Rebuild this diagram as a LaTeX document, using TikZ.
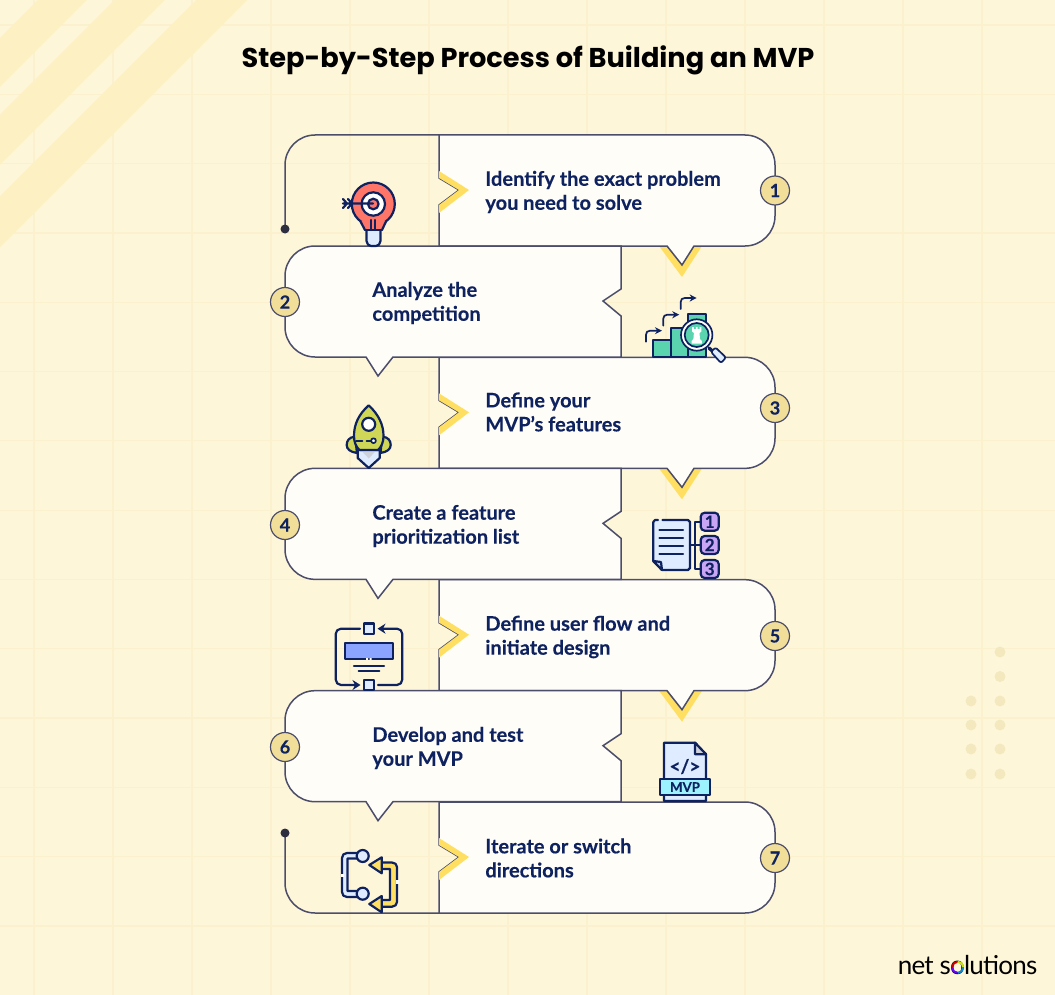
\documentclass[tikz,border=0pt]{standalone}
\usepackage{fontspec}
\setmainfont{Lato}[BoldFeatures={FakeBold=0.25}]
\newfontfamily\titlefont{Poppins}
\usetikzlibrary{arrows.meta,positioning}
\definecolor{paper}{HTML}{FEF6D8}
\definecolor{gridline}{HTML}{FBF1CE}
\definecolor{stripe}{HTML}{FDF0C3}
\definecolor{speck}{HTML}{F3E8BE}
\definecolor{panel}{HTML}{FFFDF8}
\definecolor{frame}{HTML}{4B4D6B}
\definecolor{navy}{HTML}{0F2260}
\definecolor{sun}{HTML}{FFDF62}
\definecolor{badge}{HTML}{F1DE98}
\definecolor{coral}{HTML}{FF7567}
\definecolor{pale}{HTML}{DFECFF}
\definecolor{mint}{HTML}{5AD4AE}
\definecolor{olive}{HTML}{D0D655}
\definecolor{lilac}{HTML}{C9A5F5}
\definecolor{cornblue}{HTML}{8AA4FF}
\definecolor{aqua}{HTML}{9CF3FF}
\tikzset{
  panelline/.style={draw=frame,line width=0.75pt,fill=panel,line join=miter},
  frameline/.style={draw=frame,line width=0.75pt},
  stepbadge/.style={circle,draw=frame,fill=badge,line width=0.6pt,minimum size=14.5pt,inner sep=0pt,text=navy,font=\fontsize{9}{9}\selectfont\bfseries},
  steplabel/.style={anchor=west,align=left,inner sep=0pt,text=navy,font=\fontsize{10}{12}\selectfont\bfseries},
  iconline/.style={draw=navy,line width=1.1pt,line join=round,line cap=round},
  iconthin/.style={draw=navy,line width=0.85pt,line join=round,line cap=round},
  numtile/.style={draw=navy,fill=lilac,line width=1.1pt,rounded corners=2pt,minimum size=9pt,inner sep=0pt,text=navy,font=\fontsize{8.5}{8.5}\selectfont\bfseries},
}
\begin{document}
\begin{tikzpicture}[x=0.5pt,y=-0.5pt]
  \fill[paper] (0,0) rectangle (1055,995);
  \useasboundingbox (0,0) rectangle (1055,995);
  \foreach \k in {0,...,12} \draw[gridline,line width=0.6pt] (34+\k*79,0) -- (34+\k*79,995);
  \foreach \k in {0,...,13} \draw[gridline,line width=0.6pt] (0,25+\k*69.3) -- (1055,25+\k*69.3);
  \foreach \a/\b in {38/87,115/165,196/247}
    \fill[stripe] (\a,0) -- (\b,0) -- (0,\b) -- (0,\a) -- cycle;
  \foreach \y in {652,676.5,701,725,749,774} \fill[speck] (1000,\y) circle (5.5);
  \foreach \y in {701,725,749,774} \fill[speck] (971,\y) circle (5.5);

  \node[font=\titlefont\fontsize{13.6}{16}\selectfont\bfseries,text=black] (title) at (528,60) {Step-by-Step Process of Building an MVP};

  % open ends of the frame
  \coordinate (dottop) at (285,229);
  \coordinate (dotlow) at (285,833);
  \draw[frameline] (dottop) -- (285,165) .. controls (285,148.5) and (298.5,135) .. (315,135) -- (439,135);
  \draw[frameline] (dotlow) -- (285,883) .. controls (285,899.5) and (298.5,913) .. (315,913) -- (439,913);
  \fill[frame!60!black] (dottop) circle (4.5);
  \fill[frame!60!black] (dotlow) circle (4.5);

  % right hand panels
  \foreach \k in {0,2,4} {
    \begin{scope}[shift={(0,\k*111.17)}]
      \fill[sun] (659,246) -- (682,277) -- (702,246) -- cycle;
      \draw[panelline] (439,135) -- (745,135) .. controls (761.5,135) and (775,148.5) .. (775,165) -- (775,216) .. controls (775,232.5) and (761.5,246) .. (745,246) -- (694,246) -- (682,265) -- (667,246) -- (439,246) -- (439,205) -- (459,190) -- (439,178) -- cycle;
    \end{scope}
  }
  \begin{scope}[shift={(0,667)}]
    \draw[panelline] (439,135) -- (745,135) .. controls (761.5,135) and (775,148.5) .. (775,165) -- (775,216) .. controls (775,232.5) and (761.5,246) .. (745,246) -- (439,246) -- (439,205) -- (459,190) -- (439,178) -- cycle;
  \end{scope}
  \foreach \k in {0,2,4,6} {
    \begin{scope}[shift={(0,\k*111.17)}]
      \fill[sun] (439,171) -- (469,190) -- (439,213) -- (439,205) -- (459,190) -- (439,178) -- cycle;
    \end{scope}
  }
  % left hand panels
  \foreach \k in {0,2,4} {
    \begin{scope}[shift={(0,\k*111.17)}]
      \draw[panelline] (621,246) -- (315,246) .. controls (298.5,246) and (285,259.5) .. (285,276) -- (285,327) .. controls (285,343.5) and (298.5,357) .. (315,357) -- (366,357) -- (378,376) -- (393,357) -- (621,357) -- (621,316) -- (603,301) -- (621,289) -- cycle;
    \end{scope}
  }

  \node[steplabel] (lab1) at (485,192) {Identify the exact problem\\you need to solve};
  \node[steplabel] (lab2) at (372,303) {Analyze the\\competition};
  \node[steplabel] (lab3) at (485,412) {Define your\\MVP’s features};
  \node[steplabel] (lab4) at (372,526) {Create a feature\\prioritization list};
  \node[steplabel] (lab5) at (485,637) {Define user flow and\\initiate design};
  \node[steplabel] (lab6) at (372,748) {Develop and test\\your MVP};
  \node[steplabel] (lab7) at (485,858) {Iterate or switch\\directions};

  \foreach \n/\x/\y in {1/775/190.5,2/285/302,3/775/408,4/285/525,5/775/636,6/285/747,7/775/858}
    \node[stepbadge] (num\n) at (\x,\y) {\n};

  % bulb with target
  \draw[iconline,fill=coral] (373.3,204) circle (21.5);
  \fill[coral] (361,221) -- (366,230) -- (381,230) -- (386,221) -- cycle;
  \draw[iconline] (360.5,221.5) -- (365,230) (386,221.5) -- (382,230);
  \draw[iconline,fill=pale] (366.5,230) -- (366.5,241) .. controls (366.5,244) and (369,246) .. (371,246) -- (376,246) .. controls (378,246) and (380.5,244) .. (380.5,241) -- (380.5,230);
  \draw[iconline] (365,230) -- (382,230);
  \draw[iconline] (371,220) -- (371,230) (375,220) -- (375,230);
  \draw[iconline,fill=white] (373.3,204) circle (11.7);
  \draw[iconline,fill=coral] (373.3,204) circle (5.3);
  \draw[iconline] (343,203.5) -- (373,203.5) (343,199) -- (347,203.5) -- (343,208) (348,199) -- (352,203.5) -- (348,208);

  % bars and magnifier
  \foreach \x/\w/\t in {653.3/17.7/340,671/17.3/328.3,688.3/17.7/314}
    \draw[iconline,fill=mint] (\x,356.7) rectangle (\x+\w,\t);
  \foreach \x/\y in {646/341.7,663.3/325.7,680.7/309} {
    \draw[iconthin,-{Stealth[length=3.5pt,width=3.5pt]}] (\x,\y) -- (\x,\y-7) .. controls (\x,\y-9.5) and (\x+1.5,\y-11) .. (\x+4,\y-11) -- (\x+16,\y-11);
  }
  \draw[navy,line width=1.7pt,line cap=round] (709,348) -- (714,352.5);
  \draw[iconthin,fill=pale,rounded corners=1pt] (711,352) -- (715.5,347.5) -- (726,357.5) -- (721,363) -- cycle;
  \draw[iconthin,fill=white] (696.7,335) circle (15.7);
  \draw[iconthin,fill=mint] (696.7,335) circle (12);
  \fill[white] (692,327) -- (693.8,327) -- (693.8,329) -- (695.8,329) -- (695.8,327) -- (697.6,327) -- (697.6,329) -- (699.6,329) -- (699.6,327) -- (701.4,327) -- (701.4,331.5) -- (699.5,333) -- (700,339) -- (701.8,341) -- (701.8,343.5) -- (691.6,343.5) -- (691.6,341) -- (693.4,339) -- (693.9,333) -- (692,331.5) -- cycle;

  % rocket
  \draw[iconline,fill=olive] (355,436.7) .. controls (349,437) and (346.7,441) .. (346.7,445) .. controls (346.7,449) and (350,452) .. (357,453) -- cycle;
  \draw[iconline,fill=olive] (382.4,436.7) .. controls (388.4,437) and (390.7,441) .. (390.7,445) .. controls (390.7,449) and (387.4,452) .. (380.4,453) -- cycle;
  \draw[iconline,fill=pale] (357.7,450) -- (357.7,458) -- (368.7,468) -- (379.7,458) -- (379.7,450) -- cycle;
  \fill[pale!60!gray!70!white] (360.7,450) -- (368.7,458.5) -- (376.7,450) -- cycle;
  \draw[iconline,fill=olive] (368.7,405.3) .. controls (358,415) and (354,425) .. (354,436) .. controls (354,442) and (356,447) .. (359.5,450) -- (378,450) .. controls (381.5,447) and (383.5,442) .. (383.5,436) .. controls (383.5,425) and (379,415) .. (368.7,405.3) -- cycle;
  \draw[iconline,fill=white] (368.7,424.3) circle (6.5);
  \draw[iconthin,fill=white] (373.5,440.7) circle (2.4);
  \draw[iconthin] (356,440.7) -- (362.5,440.7) (366.5,440.7) -- (371,440.7);

  % list with numbered tiles
  \draw[iconline,fill=pale] (662.5,520) -- (688,520) -- (690,522) -- (690,568) -- (688,570) -- (662,570) -- (653.3,561) -- (653.3,522) -- (655,520) -- (658,520);
  \draw[iconline,fill=pale!70!gray] (653.3,561) -- (661,562) -- (662,570) -- cycle;
  \foreach \y in {530,538,546,554} \draw[iconline] (659.5,\y) -- (683,\y);
  \draw[iconline] (690,545) -- (700,545) (700,521.7) -- (695,521.7) -- (695,569) -- (700,569);
  \node[numtile] (tile1) at (709.7,521.7) {1};
  \node[numtile] (tile2) at (709.7,545) {2};
  \node[numtile] (tile3) at (709.7,569) {3};

  % flow with screen
  \draw[iconline,-{Stealth[length=4pt,width=5pt]}] (360,628.7) -- (341,628.7) .. controls (338,628.7) and (335.7,631) .. (335.7,634) -- (335.7,679.5) .. controls (335.7,682.5) and (338,685) .. (341,685) -- (360.5,685);
  \draw[iconline,-{Stealth[length=4pt,width=5pt]}] (378,685) -- (397,685) .. controls (400,685) and (402.3,682.5) .. (402.3,679.5) -- (402.3,634) .. controls (402.3,631) and (400,628.7) .. (397,628.7) -- (377.5,628.7);
  \draw[iconline,fill=pale] (364,623.5) rectangle (374,633.8);
  \draw[iconline,fill=pale] (364,680) rectangle (374,690);
  \draw[iconline,fill=cornblue] (345,642.7) rectangle (392.7,659.3);
  \fill[white] (366,658.2) rectangle (368,659.8) (369.5,658.2) rectangle (371.5,659.8);
  \draw[iconline] (354,666) -- (384,666) (358.7,670.7) -- (379.3,670.7);

  % code file
  \draw[iconline,fill=pale] (664,742.7) -- (695,742.7) -- (706,754.3) -- (706,801) -- (664,801) -- cycle;
  \draw[iconline,fill=pale!60!gray!70!white] (695,742.7) -- (706,754.3) -- (695,754.3) -- cycle;
  \node[text=navy,font=\fontsize{9.5}{11}\selectfont\bfseries,inner sep=0pt] (code) at (685,766.5) {</>};
  \draw[iconline,fill=aqua] (660,778.7) rectangle (710,795.3);
  \node[text=navy,font=\fontsize{6.6}{8}\selectfont\bfseries,inner sep=0pt] (mvp) at (685,787) {MVP};

  % loop
  \draw[iconline,fill=pale] (358,853) -- (347,853) .. controls (344,853) and (342,855) .. (342,858) -- (342,892) .. controls (342,895) and (344,897) .. (347,897) -- (358,897) -- (358,891) -- (347.5,891) -- (347.5,858.5) -- (358,858.5) -- cycle;
  \fill[panel] (340.5,874) rectangle (343.5,877);
  \draw[iconline,fill=pale] (362.7,856) circle (6);
  \draw[iconline,fill=pale] (362.7,893.7) circle (6);
  \draw[iconline,fill=sun] (381.7,862.5) -- (392,862.5) .. controls (395,862.5) and (397,864.5) .. (397,867) -- (397,902) .. controls (397,904.5) and (395,906.7) .. (392,906.7) -- (381.7,906.7) -- (381.7,900) -- (390,900) -- (390,869) -- (381.7,869) -- cycle;
  \fill[panel] (395.5,880) rectangle (398.5,883.5);
  \draw[iconline,fill=sun] (369.3,865) -- (381.7,857.3) -- (381.7,873.3) -- cycle;
  \draw[iconline,fill=sun] (369.3,904) -- (381.7,896) -- (381.7,912.3) -- cycle;

  % logo
  \node[text=black,font=\fontsize{13}{13}\selectfont\addfontfeature{LetterSpace=-3},inner sep=0pt] (logo) at (967.5,965.5) {net solutions};
  \foreach \a/\c in {180/red!80!black,270/yellow!80!green,0/cyan!70!blue,90/blue!60!magenta}
    \draw[\c,line width=1pt] ([shift={(\a:5.6)}]957.7,967.3) arc (\a:\a+90:5.6);
\end{tikzpicture}
\end{document}
